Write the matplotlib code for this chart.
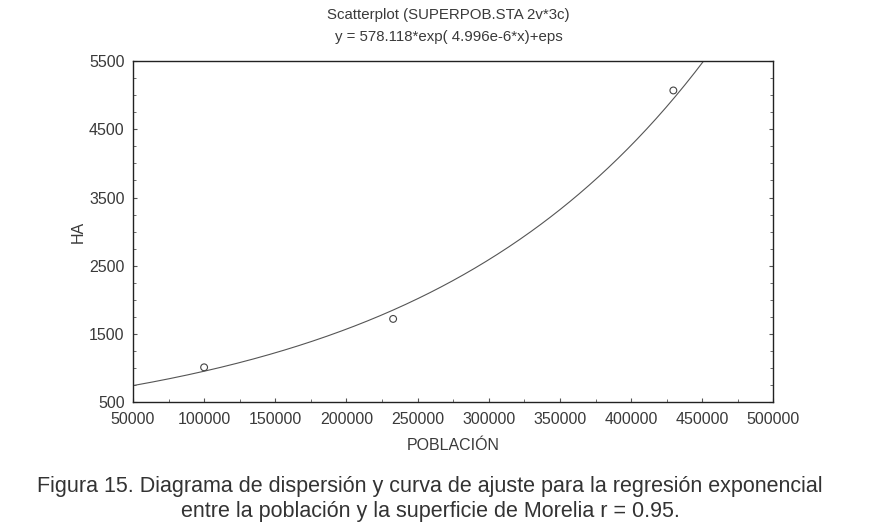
import numpy as np
import matplotlib.pyplot as plt
from matplotlib.ticker import MultipleLocator

# observed points (poblacion, hectareas)
poblacion = [100000, 232800, 429700]
hectareas = [1010, 1720, 5070]

# fitted model y = a*exp(b*x)
a = 578.118
b = 4.996e-6

x_ticks = [50000, 100000, 150000, 200000, 250000, 300000, 350000, 400000, 450000, 500000]
y_ticks = [500, 1500, 2500, 3500, 4500, 5500]

plt.rcParams['font.family'] = ['Liberation Sans', 'DejaVu Sans']
txt = '#3a3a3a'

fig = plt.figure(figsize=(8.69, 5.27), dpi=100)
ax = fig.add_axes([0.153, 0.237, 0.737, 0.647])

xs = np.linspace(50000, 500000, 400)
ax.plot(xs, a * np.exp(b * xs), color='#555555', lw=0.8)
ax.scatter(poblacion, hectareas, s=24, facecolors='none', edgecolors='#444444', linewidths=0.8, zorder=3)

ax.set_xlim(50000, 500000)
ax.set_ylim(500, 5500)
ax.set_xticks(x_ticks)
ax.set_yticks(y_ticks)
ax.set_xticklabels([str(v) for v in x_ticks])
ax.set_yticklabels([str(v) for v in y_ticks])
ax.yaxis.set_minor_locator(MultipleLocator(250))
ax.xaxis.set_minor_locator(MultipleLocator(25000))
ax.tick_params(which='both', direction='in', top=False, right=True, colors='#555555',
               labelcolor=txt, labelsize=11.5)
ax.tick_params(which='major', length=3)
ax.tick_params(which='minor', length=2)
ax.tick_params(axis='x', pad=7)
ax.tick_params(axis='y', pad=6)
for s in ax.spines.values():
    s.set_color('#222222')
    s.set_linewidth(1.0)

ax.set_xlabel('POBLACIÓN', fontsize=11.5, color=txt, labelpad=8)
ax.set_ylabel('HA', fontsize=11.5, color=txt, labelpad=2)

fig.text(0.516, 0.972, 'Scatterplot (SUPERPOB.STA 2v*3c)', ha='center', va='center', fontsize=10.8, color=txt)
fig.text(0.516, 0.929, 'y = 578.118*exp( 4.996e-6*x)+eps', ha='center', va='center', fontsize=10.8, color=txt)

fig.text(0.495, 0.077, 'Figura 15. Diagrama de dispersión y curva de ajuste para la regresión exponencial',
         ha='center', va='center', fontsize=15.5, color='#333333')
fig.text(0.495, 0.030, 'entre la población y la superficie de Morelia r = 0.95.',
         ha='center', va='center', fontsize=15.5, color='#333333')

fig.savefig('out.png', dpi=100)
